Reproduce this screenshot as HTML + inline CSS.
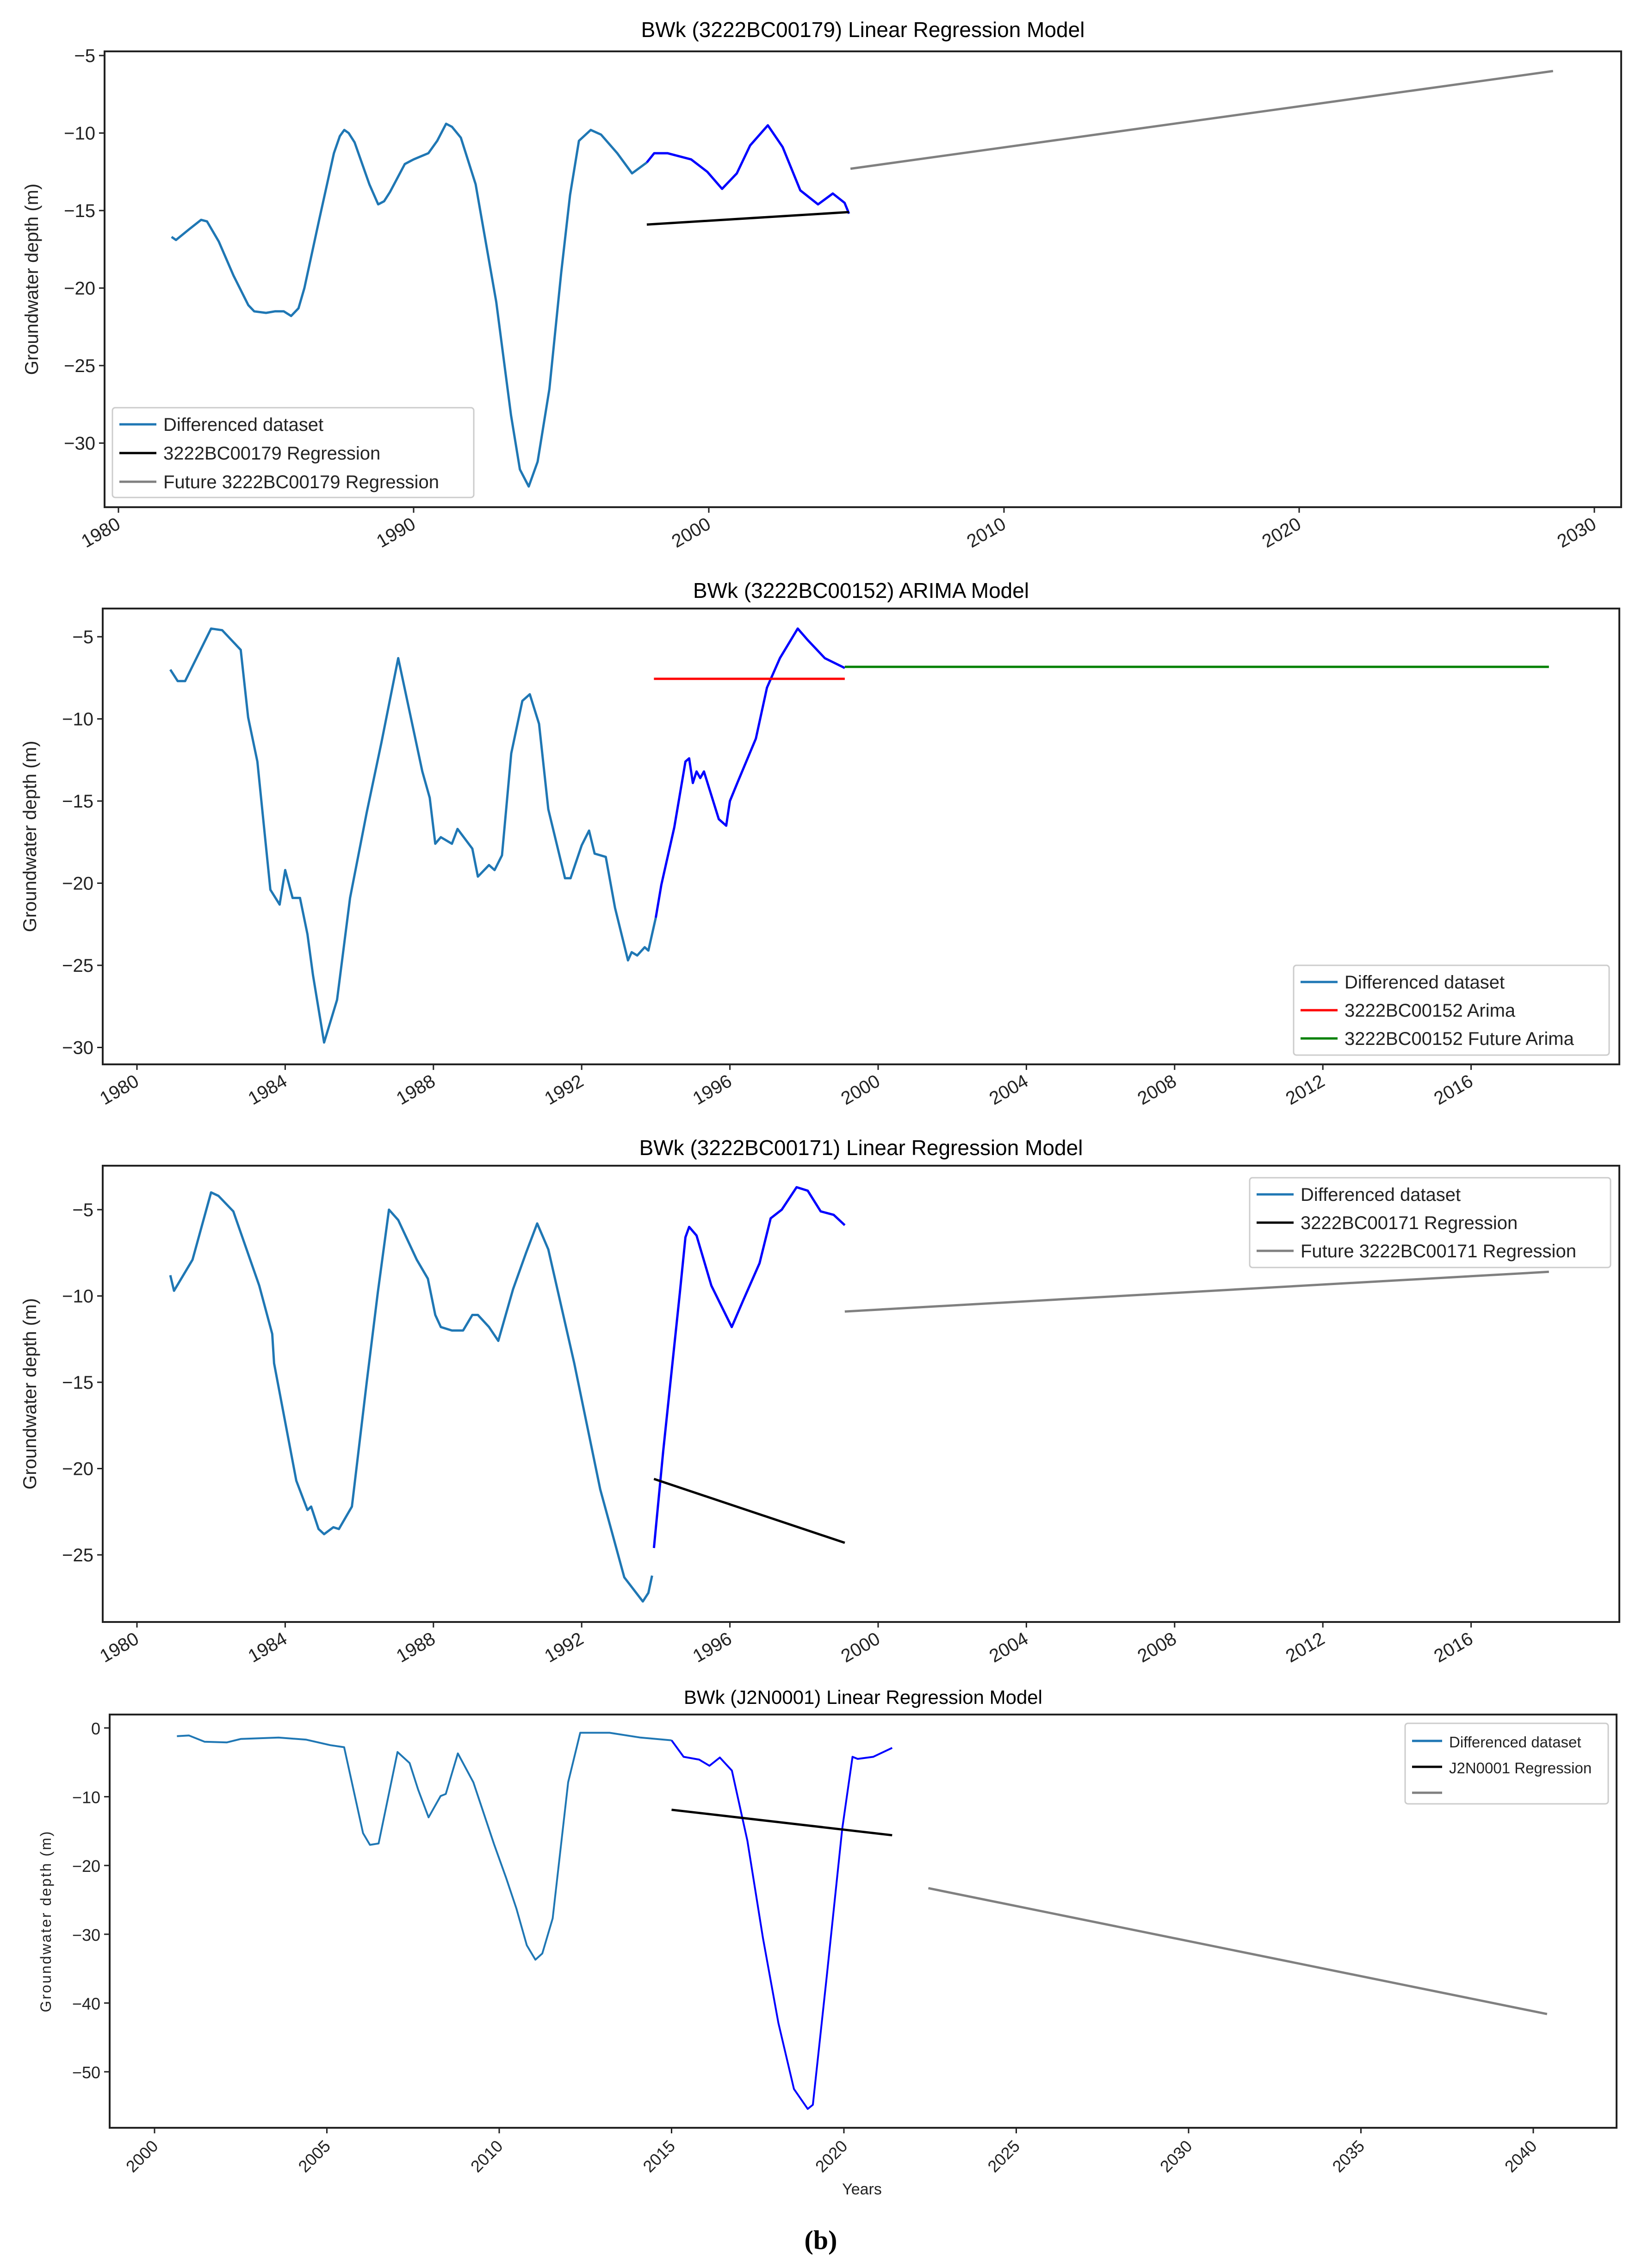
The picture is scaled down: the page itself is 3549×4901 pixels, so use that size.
<!DOCTYPE html>
<html><head><meta charset="utf-8"><style>
body{margin:0;background:#fff;}
svg{display:block;font-family:"Liberation Sans","DejaVu Sans",sans-serif;}
</style></head><body>
<svg id="fig" width="3549" height="4901" viewBox="0 0 3549 4901"></svg>
<script>
// ---- Panel 1 data (3222BC00179) ----
const p1HistX=[1981.8,1981.95,1982.4,1982.8,1983.0,1983.4,1983.9,1984.4,1984.6,1985.0,1985.3,1985.6,1985.85,1986.1,1986.3,1986.8,1987.3,1987.5,1987.65,1987.8,1988.0,1988.5,1988.8,1989.0,1989.2,1989.7,1990.0,1990.5,1990.8,1991.1,1991.3,1991.6,1992.1,1992.8,1993.3,1993.6,1993.9,1994.2,1994.6,1995.0,1995.3,1995.6,1996.0,1996.35,1996.9,1997.4,1997.9];
const p1HistY=[-16.7,-16.9,-16.2,-15.6,-15.7,-17.0,-19.2,-21.1,-21.5,-21.6,-21.5,-21.5,-21.8,-21.3,-20.0,-15.6,-11.3,-10.2,-9.8,-10.0,-10.6,-13.3,-14.6,-14.4,-13.8,-12.0,-11.7,-11.3,-10.5,-9.4,-9.6,-10.3,-13.3,-20.9,-28.2,-31.7,-32.8,-31.2,-26.5,-19.0,-14.0,-10.5,-9.8,-10.1,-11.3,-12.6,-11.9];
const p1TestX=[1997.9,1998.15,1998.6,1999.4,1999.95,2000.45,2000.95,2001.4,2002.0,2002.5,2003.1,2003.7,2004.2,2004.6,2004.75];
const p1TestY=[-11.9,-11.3,-11.3,-11.7,-12.5,-13.6,-12.6,-10.8,-9.5,-10.9,-13.7,-14.6,-13.9,-14.5,-15.2];
const p1RegX=[1997.9,2004.75], p1RegY=[-15.9,-15.1];
const p1FutX=[2004.8,2028.6], p1FutY=[-12.3,-6.0];
const p1YTicks=[-5,-10,-15,-20,-25,-30];
const p1XTicks=[1980,1990,2000,2010,2020,2030];
// ---- Panel 2 data (3222BC00152) ----
const p2HistX=[1980.9,1981.1,1981.3,1982.0,1982.3,1982.8,1983.0,1983.25,1983.6,1983.85,1984.0,1984.2,1984.4,1984.6,1984.75,1985.05,1985.4,1985.75,1986.2,1986.6,1987.05,1987.7,1987.9,1988.05,1988.2,1988.5,1988.65,1989.05,1989.2,1989.5,1989.65,1989.85,1990.1,1990.4,1990.6,1990.85,1991.1,1991.55,1991.7,1992.0,1992.2,1992.35,1992.65,1992.9,1993.25,1993.35,1993.5,1993.7,1993.8,1994.0];
const p2HistY=[-7.0,-7.7,-7.7,-4.5,-4.6,-5.8,-9.9,-12.6,-20.4,-21.3,-19.2,-20.9,-20.9,-23.1,-25.6,-29.7,-27.1,-20.9,-15.7,-11.4,-6.3,-13.2,-14.8,-17.6,-17.2,-17.6,-16.7,-17.9,-19.6,-18.9,-19.2,-18.3,-12.1,-8.9,-8.5,-10.3,-15.5,-19.7,-19.7,-17.7,-16.8,-18.2,-18.4,-21.5,-24.7,-24.2,-24.4,-23.9,-24.1,-22.1];
const p2TestX=[1994.0,1994.15,1994.5,1994.8,1994.9,1995.0,1995.1,1995.2,1995.3,1995.7,1995.9,1996.0,1996.2,1996.7,1997.0,1997.35,1997.83,1998.1,1998.56,1999.1];
const p2TestY=[-22.1,-20.1,-16.6,-12.6,-12.4,-13.9,-13.2,-13.6,-13.2,-16.1,-16.5,-15.0,-13.9,-11.2,-8.1,-6.3,-4.5,-5.2,-6.3,-6.9];
const p2ArimaX=[1993.95,1999.1], p2ArimaY=[-7.56,-7.56];
const p2FutX=[1999.1,2018.1], p2FutY=[-6.83,-6.83];
const p2YTicks=[-5,-10,-15,-20,-25,-30];
const p2XTicks=[1980,1984,1988,1992,1996,2000,2004,2008,2012,2016];
// ---- Panel 3 data (3222BC00171) ----
const p3HistX=[1980.9,1981.0,1981.5,1982.0,1982.2,1982.6,1983.3,1983.65,1983.7,1984.3,1984.6,1984.7,1984.9,1985.05,1985.3,1985.45,1985.8,1986.2,1986.5,1986.8,1987.05,1987.55,1987.85,1988.05,1988.2,1988.5,1988.8,1989.05,1989.2,1989.5,1989.75,1990.15,1990.5,1990.8,1991.1,1991.8,1992.5,1993.15,1993.65,1993.8,1993.9];
const p3HistY=[-8.8,-9.7,-7.9,-4.0,-4.2,-5.1,-9.4,-12.2,-13.9,-20.7,-22.4,-22.2,-23.5,-23.8,-23.4,-23.5,-22.2,-15.0,-9.8,-5.0,-5.6,-7.9,-9.0,-11.1,-11.8,-12.0,-12.0,-11.1,-11.1,-11.8,-12.6,-9.6,-7.5,-5.8,-7.3,-13.9,-21.2,-26.3,-27.7,-27.2,-26.2];
const p3TestX=[1993.95,1994.2,1994.65,1994.8,1994.9,1995.1,1995.5,1996.05,1996.35,1996.8,1997.1,1997.4,1997.8,1998.1,1998.45,1998.8,1999.1];
const p3TestY=[-24.6,-19.0,-9.8,-6.6,-6.0,-6.5,-9.4,-11.8,-10.3,-8.1,-5.5,-5.0,-3.7,-3.9,-5.1,-5.3,-5.9];
const p3RegX=[1993.95,1999.1], p3RegY=[-20.6,-24.3];
const p3FutX=[1999.1,2018.1], p3FutY=[-10.9,-8.6];
const p3YTicks=[-5,-10,-15,-20,-25];
const p3XTicks=[1980,1984,1988,1992,1996,2000,2004,2008,2012,2016];
// ---- Panel 4 data (J2N0001) ----
const p4HistX=[2000.65,2001.0,2001.45,2002.1,2002.5,2003.6,2004.4,2005.1,2005.5,2006.05,2006.25,2006.5,2007.05,2007.4,2007.65,2007.95,2008.3,2008.45,2008.8,2009.25,2009.85,2010.2,2010.5,2010.8,2011.05,2011.25,2011.55,2012.0,2012.35,2013.2,2014.1,2015.0];
const p4HistY=[-1.2,-1.1,-2.0,-2.1,-1.6,-1.4,-1.7,-2.5,-2.8,-15.3,-17.0,-16.8,-3.5,-5.1,-9.0,-13.0,-9.9,-9.6,-3.7,-7.9,-16.9,-21.8,-26.3,-31.6,-33.7,-32.8,-27.7,-7.9,-0.7,-0.7,-1.4,-1.8];
const p4TestX=[2015.0,2015.35,2015.8,2016.1,2016.4,2016.75,2017.2,2017.65,2018.1,2018.55,2018.95,2019.1,2019.5,2019.95,2020.25,2020.4,2020.85,2021.4];
const p4TestY=[-1.8,-4.2,-4.6,-5.5,-4.3,-6.2,-16.4,-30.5,-42.9,-52.5,-55.4,-54.8,-36.2,-14.7,-4.2,-4.5,-4.2,-2.9];
const p4RegX=[2015.0,2021.4], p4RegY=[-11.9,-15.6];
const p4FutX=[2022.45,2040.4], p4FutY=[-23.3,-41.6];
const p4YTicks=[0,-10,-20,-30,-40,-50];
const p4XTicks=[2000,2005,2010,2015,2020,2025,2030,2035,2040];

const NS="http://www.w3.org/2000/svg";
const svg=document.getElementById('fig');
function el(tag,attrs,parent){const e=document.createElementNS(NS,tag);for(const k in attrs)e.setAttribute(k,attrs[k]);(parent||svg).appendChild(e);return e;}
function txt(s,attrs,parent){const e=el('text',attrs,parent);e.textContent=s;return e;}

function panel(cfg){
  const g=el('g',{});
  
  
  const sx=v=>cfg.x0px+(v-cfg.x0v)*cfg.xk;
  const sy=v=>cfg.y0px-(v-cfg.y0v)*cfg.yk;
  const t=txt(cfg.title,{x:(cfg.L+cfg.R)/2,y:cfg.titleY,'font-size':cfg.tfs,'text-anchor':'middle',fill:'#000'},g);
  
  
  const frame=el('rect',{x:cfg.L,y:cfg.T,width:cfg.R-cfg.L,height:cfg.B-cfg.T,fill:'none',stroke:'#222','stroke-width':4},g);
  
  
  cfg.yTicks.forEach(v=>{
    const y=sy(v);
    el('line',{x1:cfg.L-12,x2:cfg.L,y1:y,y2:y,stroke:'#222','stroke-width':3},g);
    const l=txt(v<0?'\u2212'+(-v):String(v),{x:cfg.L-20,y:y+14,'font-size':cfg.fs,'text-anchor':'end',fill:'#222'},g);
    
    
  });
  cfg.xTicks.forEach(v=>{
    const x=sx(v);
    el('line',{x1:x,x2:x,y1:cfg.B,y2:cfg.B+12,stroke:'#222','stroke-width':3},g);
    const l=txt(String(v),{x:x,y:cfg.B+46,'font-size':cfg.xfs,'text-anchor':'end',fill:'#222',transform:`rotate(${-cfg.rot} ${x} ${cfg.B+32})`},g);
    
    
  });
  const yl=txt('Groundwater depth (m)',{x:cfg.ylx,y:(cfg.T+cfg.B)/2,'font-size':cfg.yfs||cfg.fs,'text-anchor':'middle',fill:'#222',transform:`rotate(-90 ${cfg.ylx} ${(cfg.T+cfg.B)/2})`,'letter-spacing':cfg.yls||0},g);
  
  
  cfg.series.forEach(s=>{
    const d=s.x.map((v,i)=>(i?'L':'M')+sx(v).toFixed(1)+','+sy(s.y[i]).toFixed(1)).join('');
    const p=el('path',{d:d,fill:'none',stroke:s.c,'stroke-width':s.w||5,'stroke-linejoin':'round'},g);
    
    
  });
  const lg=cfg.legend;
  const lb=el('g',{},g);
  
  
  el('rect',{x:lg.x,y:lg.y,width:lg.w,height:lg.h,rx:6,fill:'#fff',stroke:'#ccc','stroke-width':3},lb);
  lg.items.forEach((it,i)=>{
    const y=lg.y+lg.pad+i*lg.dy;
    el('line',{x1:lg.x+15,x2:lg.x+15+lg.lw,y1:y,y2:y,stroke:it.c,'stroke-width':5},lb);
    const e=txt(it.t,{x:lg.x+30+lg.lw,y:y+14,'font-size':lg.fs,fill:'#222'},lb);
    
    
  });
}
const SB='#1f77b4',BL='#0000ff',BK='#000',GR='#808080';
panel({name:'panel-3222BC00179',title:'BWk (3222BC00179) Linear Regression Model',titleY:80,L:226,R:3504,T:111,B:1096,
  x0v:1980,x0px:256,xk:63.8,y0v:-5,y0px:120,yk:33.5,fs:40,xfs:40,tfs:46,rot:30,ylx:82,
  yTicks:p1YTicks,xTicks:p1XTicks,
  series:[{x:p1HistX,y:p1HistY,c:SB,n:'differenced-dataset-line'},{x:p1TestX,y:p1TestY,c:BL,n:'test-segment-line'},{x:p1RegX,y:p1RegY,c:BK,n:'regression-line'},{x:p1FutX,y:p1FutY,c:GR,n:'future-regression-line'}],
  legend:{x:243,y:881,w:781,h:194,pad:36,dy:62,lw:80,fs:40,items:[{t:'Differenced dataset',c:SB},{t:'3222BC00179 Regression',c:BK},{t:'Future 3222BC00179 Regression',c:GR}]}});
panel({name:'panel-3222BC00152',title:'BWk (3222BC00152) ARIMA Model',titleY:1292,L:222,R:3500,T:1315,B:2300,
  x0v:1980,x0px:296,xk:80.1,y0v:-5,y0px:1376,yk:35.5,fs:40,xfs:40,tfs:46,rot:30,ylx:78,
  yTicks:p2YTicks,xTicks:p2XTicks,
  series:[{x:p2HistX,y:p2HistY,c:SB,n:'differenced-dataset-line'},{x:p2TestX,y:p2TestY,c:BL,n:'test-segment-line'},{x:p2ArimaX,y:p2ArimaY,c:'#ff0000',n:'arima-line'},{x:p2FutX,y:p2FutY,c:'#008000',n:'future-arima-line'}],
  legend:{x:2796,y:2086,w:682,h:194,pad:36,dy:61,lw:80,fs:40,items:[{t:'Differenced dataset',c:SB},{t:'3222BC00152 Arima',c:'#ff0000'},{t:'3222BC00152 Future Arima',c:'#008000'}]}});
panel({name:'panel-3222BC00171',title:'BWk (3222BC00171) Linear Regression Model',titleY:2496,L:222,R:3500,T:2519,B:3505,
  x0v:1980,x0px:296,xk:80.1,y0v:-5,y0px:2614,yk:37.3,fs:40,xfs:40,tfs:46,rot:30,ylx:78,
  yTicks:p3YTicks,xTicks:p3XTicks,
  series:[{x:p3HistX,y:p3HistY,c:SB,n:'differenced-dataset-line'},{x:p3TestX,y:p3TestY,c:BL,n:'test-segment-line'},{x:p3RegX,y:p3RegY,c:BK,n:'regression-line'},{x:p3FutX,y:p3FutY,c:GR,n:'future-regression-line'}],
  legend:{x:2701,y:2545,w:780,h:194,pad:36,dy:61,lw:80,fs:40,items:[{t:'Differenced dataset',c:SB},{t:'3222BC00171 Regression',c:BK},{t:'Future 3222BC00171 Regression',c:GR}]}});
panel({name:'panel-J2N0001',title:'BWk (J2N0001) Linear Regression Model',titleY:3682,L:237,R:3494,T:3705,B:4598,
  x0v:2000,x0px:334,xk:74.5,y0v:0,y0px:3734,yk:14.86,fs:36,xfs:36,tfs:42,rot:45,ylx:110,yfs:32,yls:3,
  yTicks:p4YTicks,xTicks:p4XTicks,
  series:[{x:p4HistX,y:p4HistY,c:SB,n:'differenced-dataset-line',w:4},{x:p4TestX,y:p4TestY,c:BL,n:'test-segment-line',w:4},{x:p4RegX,y:p4RegY,c:BK,n:'regression-line'},{x:p4FutX,y:p4FutY,c:GR,n:'future-regression-line'}],
  legend:{x:3037,y:3724,w:439,h:174,pad:38,dy:56,lw:65,fs:33,items:[{t:'Differenced dataset',c:SB},{t:'J2N0001 Regression',c:BK},{t:'',c:GR}]}});
const yx=txt('Years',{x:1863,y:4742,'font-size':34,'text-anchor':'middle',fill:'#222'});


const cap=txt('(b)',{x:1774,y:4860,'font-size':58,'font-weight':'bold','text-anchor':'middle',fill:'#000','font-family':'Liberation Serif, serif'});


</script>
</body></html>
